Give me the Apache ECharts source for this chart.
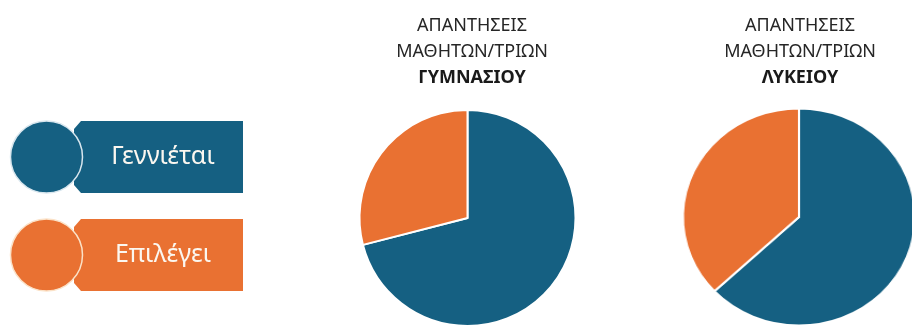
<!DOCTYPE html>
<html>
<head>
<meta charset="utf-8">
<script src="https://cdn.jsdelivr.net/npm/echarts@6/dist/echarts.min.js"></script>
<style>
  html, body { margin: 0; padding: 0; background: #ffffff; overflow: hidden; }
  #wrap { position: relative; width: 912px; height: 325px; overflow: hidden; }
  #main, #side { position: absolute; left: 0; top: 0; width: 912px; height: 325px; }
  /* the upper-school pie is drawn slightly wider than tall */
  #side { transform-origin: 799px 217px; transform: scaleX(1.07); pointer-events: none; }
</style>
</head>
<body>
<div id="wrap">
  <div id="main"></div>
  <div id="side"></div>
</div>
<script>
// Answer categories (shared by both pies and the key on the left)
const categories = ['Γεννιέται', 'Επιλέγει'];
// Share of answers (%) from lower-secondary students
const gymnasioValues = [71, 29];
// Share of answers (%) from upper-secondary students
const lykeioValues = [63, 37];
// Chart headings
const titleLines = ['ΑΠΑΝΤΗΣΕΙΣ', 'ΜΑΘΗΤΩΝ/ΤΡΙΩΝ'];
const schoolNames = ['ΓΥΜΝΑΣΙΟΥ', 'ΛΥΚΕΙΟΥ'];

const colors = ['#156082', '#E97132'];
const ringColors = ['#d8e6ee', '#fbe2c8'];
const titleFont = '"Noto Sans", "Open Sans", sans-serif';
const keyFont = '"Noto Sans", "Open Sans", sans-serif';

function pieData(values) {
  return categories.map((name, i) => ({ name, value: values[i], itemStyle: { color: colors[i] } }));
}

function makeTitle(school, x) {
  return {
    text: titleLines.join('\n') + '\n{b|' + school + '}',
    left: x,
    top: 8,
    textAlign: 'center',
    textStyle: {
      fontFamily: titleFont,
      fontSize: 18,
      fontWeight: 'normal',
      color: '#262626',
      lineHeight: 26,
      rich: {
        b: { fontFamily: titleFont, fontSize: 18, fontWeight: 'bold', color: '#1a1a1a', lineHeight: 26 }
      }
    }
  };
}

// Key: a tag-shaped box with a round badge on its left
function keyItem(i, cy) {
  const top = cy - 36, bottom = cy + 36;
  return [
    {
      type: 'polygon',
      shape: { points: [[81, top], [243, top], [243, bottom], [81, bottom], [74, bottom - 8], [74, top + 8]] },
      style: { fill: colors[i] },
      silent: true
    },
    {
      type: 'circle',
      shape: { cx: 46.5, cy: cy, r: 36 },
      style: { fill: colors[i], stroke: ringColors[i], lineWidth: 1.5 },
      silent: true
    },
    {
      type: 'text',
      x: 163,
      y: cy,
      style: {
        text: categories[i],
        fill: '#fbf7f0',
        font: '25px ' + keyFont,
        align: 'center',
        verticalAlign: 'middle'
      },
      silent: true
    }
  ];
}

const pieBase = {
  type: 'pie',
  startAngle: 90,
  clockwise: true,
  label: { show: false },
  labelLine: { show: false },
  emphasis: { disabled: true },
  itemStyle: { borderColor: '#ffffff', borderWidth: 2 },
  animation: false
};

const main = echarts.init(document.getElementById('main'), null, { renderer: 'canvas' });
main.setOption({
  animation: false,
  backgroundColor: '#ffffff',
  title: [makeTitle(schoolNames[0], 467), makeTitle(schoolNames[1], 795)],
  graphic: [].concat(keyItem(0, 157), keyItem(1, 255)),
  series: [
    Object.assign({}, pieBase, { center: [467.5, 218], radius: 108, data: pieData(gymnasioValues) })
  ]
});

const side = echarts.init(document.getElementById('side'), null, { renderer: 'canvas' });
side.setOption({
  animation: false,
  series: [
    Object.assign({}, pieBase, { center: [799, 217], radius: 108.5, data: pieData(lykeioValues) })
  ]
});
</script>
</body>
</html>
